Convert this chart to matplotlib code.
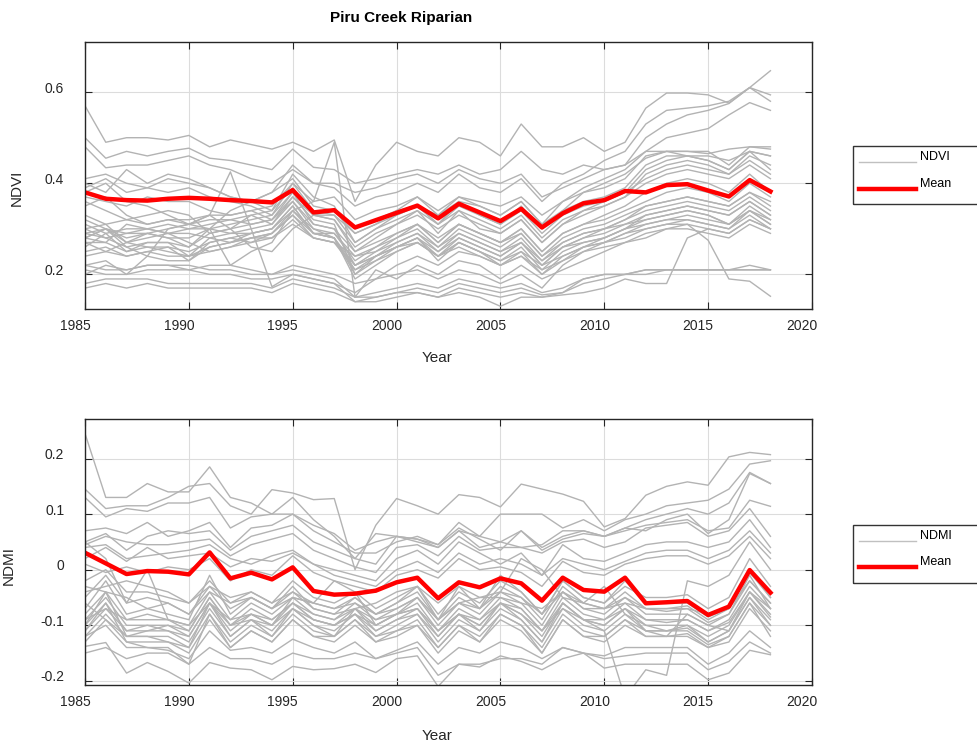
import numpy as np
import matplotlib
matplotlib.use('Agg')
import matplotlib.pyplot as plt
from matplotlib.lines import Line2D
from matplotlib.patches import Rectangle
from matplotlib.transforms import ScaledTranslation

plt.rcParams['font.family'] = ['Liberation Sans', 'DejaVu Sans']
plt.rcParams['axes.unicode_minus'] = False

# ===================== data =====================
years = list(range(1985, 2019))

ndvi_mean = [.380, .366, .363, .362, .366, .368, .366, .363, .361, .358,
             .385, .336, .341, .303, .319, .335, .351, .323, .355, .336,
             .317, .344, .303, .334, .356, .363, .383, .380, .396, .398,
             .384, .371, .407, .382]

ndmi_mean = [.0305, .0114, -.0078, -.0024, -.0036, -.0084, .0311, -.0156, -.0054, -.0174,
             .0042, -.0383, -.0449, -.0431, -.0377, -.0227, -.0144, -.0515, -.0227, -.0317,
             -.0156, -.0245, -.0557, -.0144, -.0365, -.0395, -.0144, -.0604, -.0586, -.0563,
             -.0814, -.0664, -.0006, -.0413]

# one list per pixel / site (gray lines)
ndvi_sites = [
    [.57, .49, .50, .50, .495, .505, .48, .495, .485, .475, .49, .47, .495, .36, .44, .49, .47, .46, .50, .49, .46, .53, .48, .48, .50, .47, .49, .565, .598, .598, .594, .576, .61, .594],
    [.50, .455, .47, .46, .47, .477, .455, .45, .44, .43, .475, .435, .43, .40, .41, .42, .43, .42, .44, .42, .43, .47, .43, .42, .44, .43, .44, .50, .53, .55, .56, .575, .61, .647],
    [.48, .434, .44, .44, .45, .46, .44, .43, .41, .40, .43, .40, .39, .35, .37, .38, .40, .38, .42, .39, .38, .41, .36, .40, .42, .45, .47, .53, .56, .565, .57, .58, .61, .58],
    [.41, .42, .40, .39, .41, .40, .39, .37, .36, .38, .44, .40, .40, .38, .39, .41, .42, .40, .43, .41, .40, .42, .37, .39, .41, .43, .44, .47, .50, .51, .52, .55, .577, .56],
    [.40, .38, .43, .40, .42, .41, .39, .37, .36, .34, .42, .37, .35, .27, .30, .33, .35, .31, .36, .33, .31, .35, .30, .34, .38, .40, .42, .455, .47, .47, .465, .475, .48, .475],
    [.39, .41, .38, .39, .38, .39, .37, .36, .35, .33, .40, .36, .37, .32, .34, .35, .37, .34, .37, .36, .35, .37, .33, .36, .38, .39, .41, .46, .47, .47, .47, .44, .48, .48],
    [.37, .36, .35, .37, .36, .36, .34, .33, .34, .32, .38, .33, .33, .29, .31, .33, .35, .31, .35, .33, .31, .34, .29, .33, .35, .36, .38, .43, .45, .46, .45, .43, .47, .46],
    [.36, .34, .32, .33, .34, .33, .29, .30, .33, .31, .37, .33, .32, .25, .28, .31, .34, .29, .34, .30, .29, .32, .27, .31, .34, .35, .37, .42, .44, .45, .44, .42, .46, .44],
    [.35, .37, .33, .31, .32, .31, .30, .34, .36, .38, .41, .35, .34, .30, .32, .34, .35, .33, .36, .35, .33, .36, .31, .34, .36, .37, .39, .44, .46, .46, .45, .43, .47, .43],
    [.32, .30, .29, .30, .29, .30, .30, .31, .32, .33, .38, .31, .30, .22, .25, .28, .31, .27, .31, .29, .27, .30, .25, .29, .31, .32, .34, .36, .38, .39, .38, .36, .40, .37],
    [.30, .31, .27, .28, .29, .29, .28, .29, .30, .31, .36, .30, .29, .24, .26, .28, .30, .26, .30, .28, .26, .29, .24, .28, .30, .31, .33, .35, .36, .37, .36, .35, .38, .35],
    [.29, .28, .26, .27, .27, .26, .29, .30, .31, .32, .37, .32, .31, .20, .24, .27, .29, .25, .29, .27, .25, .28, .23, .27, .29, .30, .32, .34, .35, .36, .35, .34, .37, .34],
    [.28, .30, .28, .29, .28, .28, .30, .29, .29, .30, .35, .29, .29, .23, .26, .29, .31, .28, .31, .29, .27, .29, .24, .27, .29, .30, .31, .32, .33, .34, .33, .31, .35, .32],
    [.27, .27, .25, .26, .26, .25, .27, .28, .29, .30, .34, .30, .28, .21, .24, .26, .28, .24, .28, .26, .24, .27, .22, .26, .28, .29, .31, .33, .34, .35, .34, .33, .36, .33],
    [.26, .29, .25, .27, .27, .24, .28, .27, .28, .29, .33, .28, .27, .24, .25, .27, .29, .26, .29, .27, .25, .27, .23, .26, .27, .28, .30, .31, .32, .32, .31, .30, .34, .31],
    [.31, .29, .30, .30, .31, .30, .31, .32, .33, .34, .39, .33, .32, .26, .29, .31, .33, .30, .33, .31, .29, .32, .27, .31, .33, .35, .37, .40, .42, .43, .42, .41, .44, .41],
    [.29, .30, .27, .26, .25, .24, .26, .27, .29, .30, .35, .29, .28, .19, .22, .25, .27, .24, .27, .25, .23, .26, .21, .25, .27, .28, .30, .33, .34, .35, .34, .33, .36, .33],
    [.25, .26, .24, .25, .24, .24, .25, .26, .27, .28, .32, .28, .27, .22, .24, .26, .27, .24, .27, .25, .23, .25, .22, .24, .26, .27, .28, .30, .31, .31, .30, .29, .32, .30],
    [.33, .31, .32, .31, .32, .32, .33, .33, .34, .35, .40, .34, .33, .27, .30, .32, .34, .31, .34, .32, .30, .33, .28, .32, .34, .36, .38, .41, .43, .44, .43, .42, .45, .42],
    [.28, .27, .31, .30, .29, .27, .25, .26, .28, .29, .33, .29, .28, .20, .23, .26, .28, .23, .27, .25, .22, .25, .20, .24, .26, .27, .29, .31, .32, .33, .32, .31, .34, .31],
    [.27, .25, .24, .25, .26, .23, .26, .27, .28, .28, .31, .28, .27, .21, .23, .25, .27, .24, .26, .24, .22, .24, .21, .23, .25, .27, .29, .30, .31, .32, .31, .30, .33, .30],
    [.30, .28, .29, .29, .30, .31, .32, .32, .31, .32, .36, .31, .30, .25, .27, .29, .31, .27, .31, .29, .27, .30, .25, .29, .31, .33, .35, .38, .40, .41, .40, .38, .42, .38],
    [.24, .25, .27, .29, .28, .26, .30, .22, .25, .27, .34, .29, .28, .22, .24, .26, .28, .25, .28, .26, .24, .27, .22, .26, .28, .30, .32, .35, .36, .37, .36, .35, .38, .36],
    [.22, .23, .20, .24, .30, .31, .33, .425, .30, .173, .20, .19, .18, .16, .19, .22, .24, .22, .25, .24, .22, .24, .20, .23, .26, .28, .30, .32, .33, .34, .33, .31, .34, .32],
    [.38, .40, .36, .35, .33, .31, .33, .30, .26, .25, .30, .33, .34, .29, .31, .34, .37, .33, .37, .35, .33, .36, .31, .36, .39, .41, .43, .47, .47, .46, .46, .45, .47, .46],
    [.28, .30, .26, .24, .23, .23, .27, .28, .27, .29, .34, .36, .49, .15, .21, .19, .22, .20, .23, .22, .19, .22, .19, .21, .23, .25, .27, .28, .30, .30, .29, .28, .31, .29],
    [.22, .21, .21, .22, .22, .22, .21, .21, .20, .20, .21, .20, .19, .15, .16, .17, .18, .17, .19, .18, .17, .18, .16, .17, .19, .20, .20, .21, .21, .21, .21, .21, .21, .21],
    [.21, .20, .20, .21, .21, .21, .20, .20, .19, .19, .20, .19, .18, .14, .15, .16, .17, .16, .18, .17, .16, .17, .155, .16, .18, .19, .20, .20, .21, .21, .21, .21, .22, .21],
    [.20, .22, .21, .22, .22, .21, .22, .22, .21, .20, .22, .21, .20, .18, .19, .20, .21, .19, .21, .20, .18, .20, .17, .22, .25, .26, .27, .29, .30, .31, .275, .19, .185, .152],
    [.18, .19, .19, .19, .18, .18, .18, .18, .18, .17, .19, .18, .17, .15, .15, .16, .16, .15, .17, .16, .15, .16, .15, .155, .16, .17, .19, .18, .18, .28, .30, .29, .32, .30],
    [.17, .18, .17, .18, .17, .17, .17, .17, .17, .16, .18, .17, .16, .14, .14, .15, .16, .15, .16, .15, .13, .15, .15, .16, .19, .20, .20, .21, .21, .21, .21, .21, .21, .21],
]

ndmi_sites = [
    [.245, .13, .13, .155, .14, .14, .185, .13, .12, .10, .10, .08, .065, .035, .05, .06, .05, .04, .07, .06, .05, .07, .04, .06, .07, .06, .075, .09, .10, .11, .10, .12, .175, .155],
    [.145, .11, .115, .115, .13, .15, .155, .115, .10, .144, .138, .126, .128, .00, .08, .128, .115, .10, .135, .13, .113, .154, .145, .136, .123, .077, .092, .134, .15, .158, .152, .203, .211, .207],
    [.13, .095, .11, .105, .12, .12, .13, .075, .095, .10, .13, .09, .06, .02, .065, .06, .055, .045, .085, .06, .10, .10, .10, .075, .09, .07, .09, .10, .115, .12, .125, .145, .19, .196],
    [.07, .075, .065, .085, .06, .07, .085, .04, .075, .08, .10, .07, .05, .03, .03, .05, .06, .045, .075, .055, .035, .07, .035, .055, .065, .06, .075, .07, .09, .10, .065, .09, .173, .155],
    [.05, .065, .035, .06, .07, .065, .07, .035, .06, .07, .08, .05, .035, .02, .01, .06, .055, .04, .07, .04, .05, .04, .045, .07, .07, .06, .07, .08, .085, .09, .07, .075, .125, .114],
    [.045, .06, .05, .045, .045, .05, .055, .025, .045, .055, .065, .035, .02, .005, -.005, .04, .045, .025, .06, .035, .04, .04, .03, .05, .055, .04, .05, .075, .08, .085, .06, .07, .11, .06],
    [.04, .045, .02, .025, .03, .035, .045, .02, .01, .025, .035, .01, .0, -.01, -.02, .02, .035, .01, .05, .03, .01, .03, -.01, .045, .02, .015, .03, .045, .05, .05, .04, .05, .09, .04],
    [.02, .04, .015, .04, .02, .025, .03, .005, .02, .015, .03, .01, -.01, -.02, -.03, .0, .015, -.005, .03, .01, .02, .01, -.01, .02, .01, .0, .015, .03, .035, .035, .02, .035, .07, .03],
    [.01, -.005, .005, -.005, .005, .0, .02, -.02, .0, -.01, .025, -.005, -.02, -.03, -.04, -.01, .0, -.015, .02, .0, .005, -.005, -.03, .015, -.005, -.01, .01, .02, .025, .025, .01, .025, .06, .02],
    [-.02, .00, -.04, -.04, -.05, -.06, -.02, -.06, -.04, -.06, -.02, -.05, -.06, -.04, -.07, -.05, -.03, -.08, -.04, -.06, -.02, -.04, -.08, -.02, -.05, -.06, -.03, -.05, -.05, -.045, -.07, -.05, .02, -.03],
    [-.05, -.01, -.06, -.05, -.06, -.08, -.03, -.07, -.05, -.07, -.04, -.06, -.07, -.05, -.08, -.06, -.04, -.09, -.05, -.07, -.03, -.05, -.09, -.03, -.06, -.07, -.04, -.07, -.07, -.065, -.09, -.07, .00, -.05],
    [-.08, -.04, -.09, -.09, -.09, -.10, -.04, -.09, -.06, -.08, -.05, -.08, -.09, -.06, -.09, -.07, -.05, -.10, -.06, -.08, -.04, -.06, -.10, -.04, -.07, -.08, -.05, -.08, -.08, -.08, -.10, -.08, -.02, -.06],
    [-.09, -.05, -.10, -.10, -.10, -.11, -.05, -.10, -.07, -.09, -.06, -.09, -.10, -.07, -.10, -.08, -.06, -.11, -.07, -.09, -.05, -.07, -.11, -.05, -.08, -.09, -.06, -.09, -.09, -.09, -.11, -.09, -.03, -.07],
    [-.10, -.06, -.11, -.10, -.11, -.12, -.06, -.11, -.08, -.10, -.06, -.09, -.10, -.08, -.11, -.09, -.07, -.12, -.08, -.10, -.06, -.08, -.12, -.06, -.09, -.10, -.07, -.10, -.10, -.10, -.12, -.10, -.04, -.08],
    [-.11, -.07, -.11, -.11, -.11, -.13, -.07, -.12, -.09, -.11, -.07, -.10, -.11, -.08, -.12, -.10, -.08, -.13, -.09, -.11, -.07, -.09, -.13, -.07, -.10, -.11, -.08, -.10, -.11, -.105, -.13, -.11, -.05, -.09],
    [-.12, -.08, -.12, -.12, -.12, -.14, -.08, -.13, -.10, -.12, -.08, -.11, -.12, -.09, -.12, -.11, -.09, -.14, -.10, -.12, -.08, -.10, -.14, -.08, -.11, -.12, -.09, -.11, -.11, -.11, -.135, -.12, -.06, -.10],
    [-.13, -.09, -.13, -.13, -.13, -.15, -.09, -.14, -.11, -.13, -.09, -.12, -.13, -.10, -.13, -.12, -.10, -.15, -.11, -.13, -.09, -.11, -.15, -.09, -.12, -.13, -.10, -.12, -.12, -.12, -.14, -.13, -.07, -.11],
    [-.10, -.04, -.12, -.12, -.13, -.14, -.06, -.12, -.09, -.12, -.07, -.10, -.12, -.07, -.11, -.09, -.08, -.12, -.08, -.11, -.06, -.09, -.13, -.06, -.09, -.10, -.07, -.11, -.11, -.10, -.13, -.11, -.05, -.10],
    [-.11, -.06, -.13, -.14, -.14, -.17, -.08, -.14, -.11, -.13, -.09, -.12, -.12, -.09, -.13, -.11, -.10, -.14, -.10, -.13, -.08, -.10, -.15, -.09, -.12, -.12, -.09, -.12, -.12, -.115, -.14, -.12, -.06, -.12],
    [-.07, -.02, -.08, -.07, -.08, -.09, -.01, -.08, -.05, -.07, -.03, -.07, -.08, -.05, -.08, -.06, -.03, -.09, -.03, -.07, -.01, -.04, -.08, -.02, -.05, -.06, -.02, -.06, -.06, -.06, -.085, -.07, -.005, -.05],
    [-.04, -.03, -.02, -.03, -.04, -.06, -.03, -.05, -.04, -.06, -.04, -.07, -.08, -.07, -.06, -.04, -.03, -.06, -.03, -.05, -.05, -.06, -.07, -.04, -.07, -.07, -.06, -.07, -.07, -.07, -.08, -.07, -.02, -.06],
    [-.09, -.07, -.09, -.08, -.09, -.10, -.06, -.09, -.08, -.09, -.06, -.08, -.09, -.07, -.09, -.08, -.07, -.11, -.08, -.09, -.06, -.07, -.11, -.07, -.09, -.09, -.07, -.09, -.095, -.09, -.11, -.095, -.04, -.085],
    [-.03, -.04, -.05, -.07, -.06, -.08, -.04, -.06, -.05, -.07, -.05, -.06, -.07, -.06, -.08, -.07, -.05, -.09, -.06, -.07, -.04, -.05, -.08, -.04, -.06, -.07, -.05, -.07, -.075, -.07, -.095, -.08, -.01, -.07],
    [.05, .02, -.06, .00, -.09, -.11, -.05, -.10, -.08, -.10, -.05, -.06, -.02, -.04, -.10, -.08, -.05, -.09, -.06, -.05, -.04, .02, .00, -.05, -.06, -.03, -.08, -.11, -.12, -.08, -.10, -.11, -.04, -.07],
    [-.06, -.09, -.12, -.11, -.10, -.12, -.06, -.10, -.09, -.10, -.07, -.09, -.10, -.08, -.10, -.08, -.07, -.11, -.08, -.10, -.06, -.08, -.11, -.06, -.09, -.11, -.23, -.18, -.19, -.02, -.03, -.01, .05, .00],
    [-.138, -.131, -.186, -.167, -.183, -.204, -.167, -.177, -.18, -.198, -.174, -.18, -.178, -.17, -.185, -.16, -.155, -.21, -.17, -.175, -.155, -.165, -.18, -.16, -.15, -.177, -.17, -.17, -.17, -.17, -.198, -.186, -.145, -.153],
    [-.12, -.10, -.14, -.14, -.145, -.16, -.11, -.145, -.14, -.15, -.125, -.14, -.15, -.13, -.16, -.145, -.13, -.17, -.14, -.15, -.13, -.14, -.16, -.14, -.15, -.155, -.14, -.14, -.14, -.14, -.17, -.15, -.11, -.14],
    [-.15, -.14, -.16, -.15, -.15, -.17, -.14, -.16, -.16, -.17, -.15, -.16, -.16, -.15, -.16, -.15, -.14, -.19, -.17, -.17, -.16, -.16, -.17, -.14, -.15, -.16, -.155, -.15, -.15, -.15, -.18, -.165, -.13, -.15],
]

xticks = [1985, 1990, 1995, 2000, 2005, 2010, 2015, 2020]
ndvi_yticks = [0.2, 0.4, 0.6]
ndmi_yticks = [-0.2, -0.1, 0, 0.1, 0.2]
ndmi_yticklabels = ['-0.2', '-0.1', '0', '0.1', '0.2']

GRAY = '#b3b3b3'
DARK = '#262626'


def style_axes(fig, ax, ylim, yticks, yticklabels):
    ax.set_xlim(1985, 2020)
    ax.set_ylim(*ylim)
    ax.set_xticks(xticks)
    ax.set_yticks(yticks)
    ax.set_yticklabels(yticklabels)
    ax.grid(True, color='#dcdcdc', lw=0.8)
    ax.set_axisbelow(True)
    ax.tick_params(direction='in', length=5, width=0.8, top=True, right=True,
                   colors=DARK, labelsize=10)
    ax.tick_params(axis='x', pad=7)
    ax.tick_params(axis='y', pad=15)
    for s in ax.spines.values():
        s.set_color(DARK)
        s.set_linewidth(1.0)
    # MATLAB export puts tick labels slightly off their ticks
    dx = ScaledTranslation(-10 / 100, 0, fig.dpi_scale_trans)
    dy = ScaledTranslation(0, 5 / 100, fig.dpi_scale_trans)
    for lab in ax.get_xticklabels():
        lab.set_transform(lab.get_transform() + dx)
    for lab in ax.get_yticklabels():
        lab.set_transform(lab.get_transform() + dy)


def draw_legend(fig, name, y0, y1, y_gray, y_red, y_t1, y_t2):
    fig.add_artist(Rectangle((853 / 977, y0), 0.2, y1 - y0, transform=fig.transFigure,
                             fill=False, edgecolor='#333333', lw=1.0, clip_on=False))
    fig.add_artist(Line2D([859 / 977, 916 / 977], [y_gray, y_gray], color='#c0c0c0',
                          lw=1.0, transform=fig.transFigure))
    fig.add_artist(Line2D([859 / 977, 916 / 977], [y_red, y_red], color='red',
                          lw=3.2, transform=fig.transFigure))
    fig.text(920 / 977, y_t1, name, fontsize=9, va='center', ha='left')
    fig.text(920 / 977, y_t2, 'Mean', fontsize=9, va='center', ha='left')


fig = plt.figure(figsize=(9.77, 7.45), dpi=100)
ax1 = fig.add_axes([0.0870, 0.5852, 0.7441, 0.3584])
ax2 = fig.add_axes([0.0870, 0.0801, 0.7441, 0.3574])

# ---- NDVI ----
for s in ndvi_sites:
    ax1.plot(years, s, color=GRAY, lw=1.0)
ax1.plot(years, ndvi_mean, color='red', lw=3.2)
style_axes(fig, ax1, (0.124, 0.71), ndvi_yticks, ['0.2', '0.4', '0.6'])
ax1.set_title('Piru Creek Riparian', fontsize=11, fontweight='bold', x=0.435, pad=14.5)
ax1.set_xlabel('Year', fontsize=11, color=DARK)
ax1.xaxis.set_label_coords(0.484, -0.1835)
ax1.xaxis.label.set_va('center')
ax1.set_ylabel('NDVI', fontsize=11, color=DARK)
ax1.yaxis.set_label_coords(-0.0935, 0.455)
ax1.yaxis.label.set_va('center')

# ---- NDMI ----
for s in ndmi_sites:
    ax2.plot(years, s, color=GRAY, lw=1.0)
ax2.plot(years, ndmi_mean, color='red', lw=3.2)
style_axes(fig, ax2, (-0.208, 0.271), ndmi_yticks, ndmi_yticklabels)
ax2.set_xlabel('Year', fontsize=11, color=DARK)
ax2.xaxis.set_label_coords(0.484, -0.19)
ax2.xaxis.label.set_va('center')
ax2.set_ylabel('NDMI', fontsize=11, color=DARK)
ax2.yaxis.set_label_coords(-0.1045, 0.449)
ax2.yaxis.label.set_va('center')

draw_legend(fig, 'NDVI', 1 - 204 / 745, 1 - 146 / 745, 1 - 162.3 / 745, 1 - 188.7 / 745,
            1 - 156.7 / 745, 1 - 183.7 / 745)
draw_legend(fig, 'NDMI', 1 - 583 / 745, 1 - 525 / 745, 1 - 540.7 / 745, 1 - 567.3 / 745,
            1 - 535.7 / 745, 1 - 562 / 745)

fig.savefig('out.png', dpi=100)
